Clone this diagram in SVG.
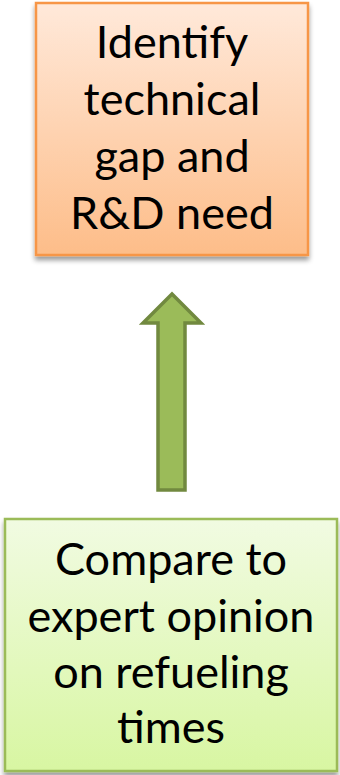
<svg xmlns="http://www.w3.org/2000/svg" width="340" height="775" viewBox="0 0 340 775">
  <defs>
    <linearGradient id="gOrange" x1="0" y1="0" x2="0" y2="1">
      <stop offset="0" stop-color="#FFE9DA"/>
      <stop offset="1" stop-color="#FDBD89"/>
    </linearGradient>
    <linearGradient id="gGreen" x1="0" y1="0" x2="0" y2="1">
      <stop offset="0" stop-color="#F1FBE2"/>
      <stop offset="1" stop-color="#D8F6A2"/>
    </linearGradient>
    <filter id="shadow" x="-10%" y="-10%" width="120%" height="120%">
      <feGaussianBlur in="SourceAlpha" stdDeviation="2.5"/>
      <feOffset dx="0" dy="4" result="b"/>
      <feComponentTransfer><feFuncA type="linear" slope="0.4"/></feComponentTransfer>
      <feMerge><feMergeNode/><feMergeNode in="SourceGraphic"/></feMerge>
    </filter>
  </defs>
  <style>
    .lbl { font-family: Lato, "Liberation Sans", sans-serif; font-size: 45px; fill: #000; text-anchor: middle; }
  </style>
  <g id="node-identify">
    <rect x="36" y="3" width="272" height="252" fill="url(#gOrange)" stroke="#F79646" stroke-width="2.5" filter="url(#shadow)"/>
    <text class="lbl" x="172" y="58">Identify</text>
    <text class="lbl" x="172" y="115">technical</text>
    <text class="lbl" x="172" y="172">gap and</text>
    <text class="lbl" x="172" y="229">R&amp;D need</text>
  </g>
  <g id="node-compare">
    <rect x="5" y="519" width="332" height="252" fill="url(#gGreen)" stroke="#9BBB59" stroke-width="2.5" filter="url(#shadow)"/>
    <text class="lbl" x="171" y="575">Compare to</text>
    <text class="lbl" x="171" y="632">expert opinion</text>
    <text class="lbl" x="171" y="688">on refueling</text>
    <text class="lbl" x="171" y="743">times</text>
  </g>
  <g id="connectors">
    <path d="M172,294 L201,323 L185,323 L185,490 L158,490 L158,323 L143,323 Z" fill="#9BBB59" stroke="#71893F" stroke-width="3.5" stroke-linejoin="miter"/>
  </g>
</svg>
